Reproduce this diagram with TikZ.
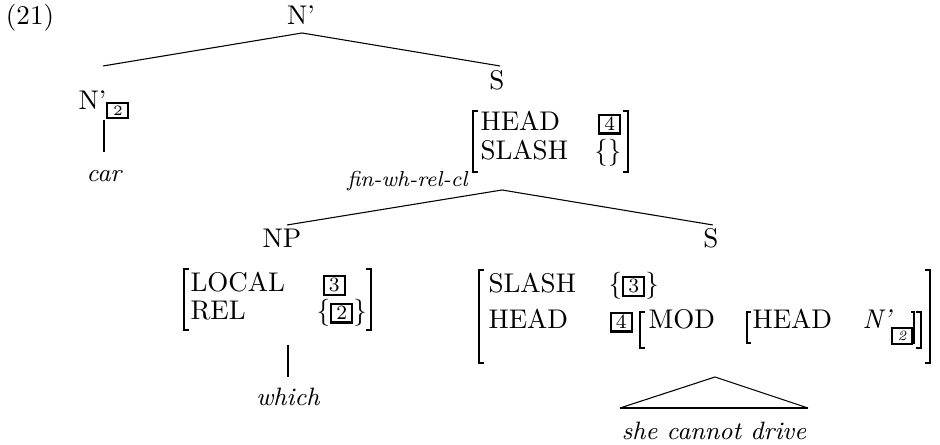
\documentclass[tikz,border=0pt]{standalone}
\usetikzlibrary{calc}

% boxed structure-sharing tags
\newcommand\tg[1]{{\setlength\fboxsep{0.5pt}\setlength\fboxrule{0.8pt}\fbox{\hspace{1pt}\fontsize{7.5}{8}\selectfont #1\hspace{1pt}}}}
\newcommand\tgs[1]{{\setlength\fboxsep{0.6pt}\setlength\fboxrule{0.75pt}\fbox{\hspace{1.1pt}\fontsize{5.3}{6}\selectfont #1\hspace{1.1pt}}}}

% square brackets of attribute-value matrices: x, top, bottom
\newcommand\avmL[3]{\draw[brk] (#1+5,#2) -- (#1,#2) -- (#1,#3) -- (#1+5,#3);}
\newcommand\avmR[3]{\draw[brk] (#1-5,#2) -- (#1,#2) -- (#1,#3) -- (#1-5,#3);}

\tikzset{
  lbl/.style={inner sep=0pt, anchor=base},
  feat/.style={inner sep=0pt, anchor=base west},
  leaf/.style={inner sep=0pt, anchor=base, font=\fontsize{9.3}{11}\selectfont\itshape},
  edge/.style={line width=0.4pt},
  stem/.style={line width=0.9pt},
  brk/.style={line width=0.5pt},
}

\begin{document}
\begin{tikzpicture}[x=0.37pt, y=-0.37pt]
\useasboundingbox (0,0) rectangle (940,445);

% example number
\node[lbl] (ex) at (30,25) {(21)};

% top level
\node[lbl] (root) at (301,25) {N'};
\node[lbl] (nb) at (104,110) {N'\raisebox{-1.9pt}{\tgs{2}}};
\node[leaf] (car) at (104,182) {car};
\node[lbl] (s1) at (497,90) {S};

\coordinate (j0) at (302,33);
\coordinate (j1) at (103,66);
\coordinate (j2) at (500,66);
\draw[edge] (j1) -- (j0) -- (j2);
\draw[stem] (104,120) -- (104,152);

% mother clause AVM
\node[feat] (a-head) at (480,131) {HEAD};
\node[feat, anchor=base east] (a-tag) at (622,131) {\tg{4}};
\node[feat] (a-slash) at (480,160) {SLASH};
\node[feat, anchor=base east] (a-val) at (622,160) {\{\}};
\avmL{473}{111}{172}
\avmR{628}{111}{172}
\node[inner sep=0pt, anchor=base east, font=\footnotesize\itshape] (rule) at (468,187) {fin-wh-rel-cl};

% daughters
\coordinate (j3) at (502,190);
\coordinate (j4) at (287,225);
\coordinate (j5) at (713,225);
\draw[edge] (j4) -- (j3) -- (j5);

% filler NP
\node[lbl] (np) at (282,248) {NP};
\node[feat] (b-local) at (190,292) {LOCAL};
\node[feat] (b-tag) at (322,292) {\tg{3}};
\node[feat] (b-rel) at (190,320) {REL};
\node[feat] (b-val) at (316,320) {\{\tg{2}\}};
\avmL{184}{269}{330}
\avmR{371}{269}{330}
\draw[stem] (288,345) -- (288,377);
\node[leaf] (which) at (288,406) {which};

% head daughter S
\node[lbl] (s2) at (711,248) {S};
\node[feat] (c-slash) at (488,293) {SLASH};
\node[feat] (c-val) at (608,293) {\{\tg{3}\}};
\node[feat] (c-head) at (488,329) {HEAD};
\node[feat] (c-tag) at (609,329) {\tg{4}};
\node[feat] (c-mod) at (648,329) {MOD};
\node[feat] (c-head2) at (752,329) {HEAD};
\node[feat] (c-nbar) at (862,329) {\itshape N'\raisebox{-4.3pt}{\tgs{2}}};
\avmL{479}{270}{363}
\avmR{930}{270}{363}
\avmL{640}{312}{348}
\avmR{921}{312}{348}
\draw[brk] (751,312) -- (747,312) -- (747,343) -- (751,343);
\draw[brk] (911,312) -- (914,312) -- (914,343) -- (911,343);

% unanalysed clause
\coordinate (t-top) at (715,377);
\coordinate (t-l) at (620,408);
\coordinate (t-r) at (808,408);
\draw[edge] (t-l) -- (t-top) -- (t-r);
\draw[line width=0.8pt] (t-l) -- (t-r);
\node[leaf] (scd) at (714,440) {she cannot drive};
\end{tikzpicture}
\end{document}
